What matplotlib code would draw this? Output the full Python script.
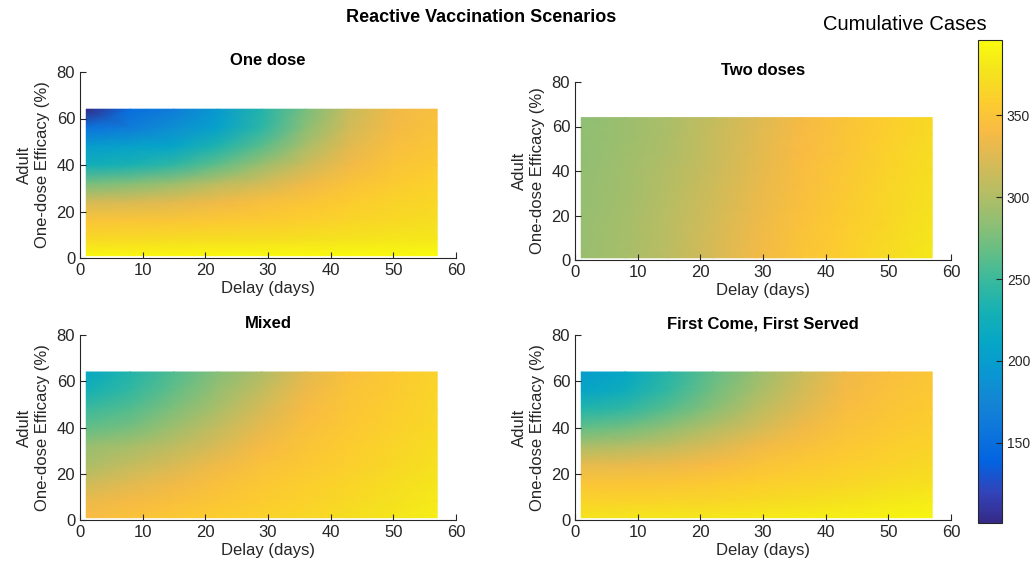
import numpy as np
import matplotlib
matplotlib.use("Agg")
import matplotlib.pyplot as plt
from matplotlib.colors import LinearSegmentedColormap

plt.rcParams["font.family"] = ["Liberation Sans", "DejaVu Sans"]

# grid of the scenario runs
delay_days = [1, 8, 15, 22, 29, 36, 43, 50, 57]
efficacy = [64, 56, 48, 40, 32, 24, 16, 8, 1]  # rows listed top -> bottom

# cumulative cases, one row per efficacy value
one_dose = [
    [101, 150, 165, 195, 238, 275, 312, 335, 345],
    [155, 165, 185, 205, 242, 282, 318, 338, 348],
    [200, 205, 210, 235, 263, 298, 328, 345, 352],
    [226, 232, 245, 265, 290, 315, 337, 350, 356],
    [275, 280, 290, 305, 318, 335, 348, 356, 362],
    [320, 323, 328, 335, 345, 350, 357, 363, 367],
    [350, 351, 352, 354, 356, 360, 364, 368, 372],
    [368, 369, 370, 371, 372, 374, 376, 378, 380],
    [392, 392, 392, 393, 393, 393, 394, 394, 395],
]
two_doses = [
    [284, 290, 298, 310, 324, 338, 349, 359, 368],
    [285, 291, 299, 312, 326, 340, 350, 360, 369],
    [285, 292, 300, 313, 327, 341, 351, 362, 371],
    [286, 293, 302, 314, 329, 343, 353, 363, 372],
    [287, 293, 303, 316, 331, 344, 354, 365, 374],
    [287, 294, 304, 317, 332, 346, 356, 366, 375],
    [288, 295, 305, 319, 334, 347, 357, 367, 377],
    [288, 295, 306, 320, 335, 349, 358, 369, 378],
    [289, 296, 307, 321, 337, 350, 360, 370, 380],
]
mixed = [
    [213, 237, 258, 280, 300, 328, 346, 354, 362],
    [229, 246, 266, 288, 310, 334, 349, 356, 364],
    [250, 260, 278, 298, 320, 340, 352, 358, 366],
    [265, 275, 292, 310, 330, 346, 354, 361, 368],
    [288, 295, 307, 322, 339, 350, 357, 364, 371],
    [298, 310, 322, 335, 347, 354, 360, 367, 374],
    [316, 326, 336, 346, 353, 358, 364, 371, 378],
    [333, 339, 346, 352, 357, 362, 368, 375, 382],
    [340, 348, 353, 358, 362, 367, 372, 378, 385],
]
fcfs = [
    [200, 212, 240, 265, 288, 313, 336, 345, 352],
    [210, 222, 247, 272, 295, 318, 338, 347, 354],
    [237, 245, 262, 283, 305, 325, 342, 350, 356],
    [265, 272, 285, 302, 318, 335, 347, 354, 359],
    [298, 302, 310, 322, 336, 346, 353, 358, 363],
    [330, 331, 334, 340, 348, 354, 359, 363, 368],
    [350, 350, 352, 355, 359, 362, 366, 370, 374],
    [363, 363, 364, 366, 369, 372, 376, 380, 384],
    [377, 378, 379, 380, 382, 384, 386, 389, 392],
]

titles = ["One dose", "Two doses", "Mixed", "First Come, First Served"]
panels = [one_dose, two_doses, mixed, fcfs]
cmin, cmax = 101, 396

# MATLAB parula, sampled
parula = LinearSegmentedColormap.from_list("parula", [
    (0.2081, 0.1663, 0.5292), (0.1959, 0.2645, 0.7279), (0.0117, 0.3875, 0.8820),
    (0.0498, 0.4586, 0.8641), (0.0793, 0.5200, 0.8312), (0.0343, 0.5966, 0.8199),
    (0.0228, 0.6535, 0.7768), (0.0843, 0.6928, 0.7062), (0.2178, 0.7250, 0.6193),
    (0.3953, 0.7459, 0.5244), (0.5709, 0.7485, 0.4494), (0.7184, 0.7411, 0.3905),
    (0.8507, 0.7299, 0.3360), (0.9739, 0.7314, 0.2666), (0.9880, 0.8066, 0.1794),
    (0.9589, 0.8949, 0.1132), (0.9763, 0.9831, 0.0538)], N=256)

dark = (0.15, 0.15, 0.15)
W, H = 1034, 572
fig = plt.figure(figsize=(W / 100, H / 100), dpi=100)

# axes boxes in pixels: left, top(y of 80), right(x of 60), bottom(y of 0)
boxes = [(80, 72, 456, 258), (575, 82, 951, 260),
         (80, 335, 456, 520), (575, 335, 951, 520)]

X, Y = np.meshgrid(delay_days, efficacy)
for (l, t, r, b), name, vals in zip(boxes, titles, panels):
    ax = fig.add_axes([l / W, 1 - b / H, (r - l) / W, (b - t) / H])
    mesh = ax.pcolormesh(X, Y, np.array(vals), cmap=parula, vmin=cmin, vmax=cmax,
                         shading="gouraud", antialiased=False)
    ax.set_xlim(0, 60)
    ax.set_ylim(0, 80)
    ax.set_xticks(range(0, 61, 10))
    ax.set_yticks(range(0, 81, 20))
    for s in ["top", "right"]:
        ax.spines[s].set_visible(False)
    for s in ["left", "bottom"]:
        ax.spines[s].set_color(dark)
        ax.spines[s].set_linewidth(0.8)
    ax.tick_params(direction="in", length=4, width=0.8, color=dark,
                   labelcolor=dark, labelsize=12)
    ax.set_xlabel("Delay (days)", fontsize=12, color=dark, labelpad=2)
    ax.set_ylabel("Adult\nOne-dose Efficacy (%)", fontsize=12, color=dark, labelpad=5)
    ax.set_title(name, fontsize=12, fontweight="bold", pad=5)

cax = fig.add_axes([978 / W, 1 - 523 / H, 24 / W, 483 / H])
cb = fig.colorbar(mesh, cax=cax)
cb.set_ticks([150, 200, 250, 300, 350])
cb.ax.tick_params(direction="in", length=4, width=0.8, color=dark,
                  labelcolor=dark, labelsize=10)
cb.outline.set_edgecolor(dark)
cb.outline.set_linewidth(0.8)

fig.text(905 / W, 1 - 24 / H, "Cumulative Cases", fontsize=14.5,
         ha="center", va="center")
fig.text(481 / W, 1 - 18 / H, "Reactive Vaccination Scenarios", fontsize=13,
         fontweight="bold", ha="center", va="center")

fig.savefig("out.png", dpi=100)
